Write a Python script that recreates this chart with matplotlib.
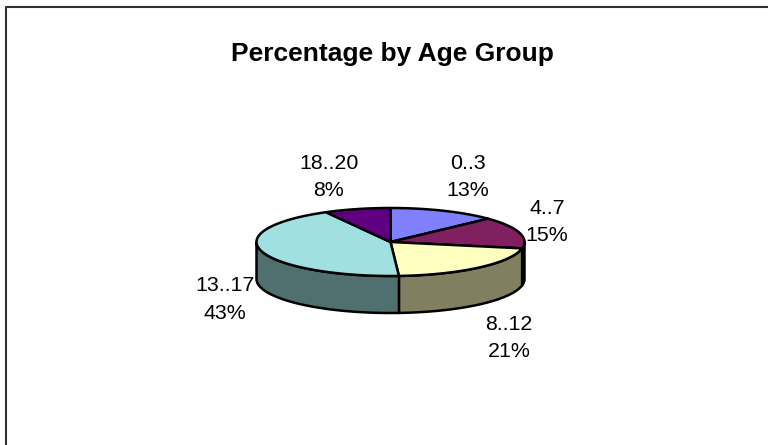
import numpy as np
import matplotlib
matplotlib.use("Agg")
import matplotlib.pyplot as plt
from matplotlib.patches import Polygon

# Percentage by age group, 3d looking pie
groups = ["0..3", "4..7", "8..12", "13..17", "18..20"]
percents = [13, 15, 21, 43, 8]
top_colors = ["#8080FF", "#802060", "#FFFFC0", "#A0E0E0", "#600080"]
side_colors = ["#404080", "#401030", "#808060", "#507070", "#300040"]

# layout, in pixels of the 768x445 picture
cx, cy = 390.5, 242
rx, ry = 134, 34
depth = 37
label_pos = [(468, 177), (547, 222), (509, 338), (225, 299.5), (329, 177)]

plt.rcParams["font.family"] = ["Liberation Sans", "DejaVu Sans"]

fig = plt.figure(figsize=(7.68, 4.45), dpi=100)
ax = fig.add_axes([0, 0, 1, 1])
ax.set_xlim(0, 768)
ax.set_ylim(445, 0)
ax.axis("off")

# chart frame
ax.plot([6, 6, 768], [445, 6.5, 6.5], color="#303030", lw=1.5, solid_capstyle="butt")


def rim(a, b):
    t = np.radians(np.linspace(a, b, 80))
    return cx + rx * np.sin(t), cy - ry * np.cos(t)


edges = np.cumsum([0] + percents) * 3.6

# outer wall, only the front half (90 to 270 deg) can be seen
for i in range(len(groups)):
    a = max(edges[i], 90)
    b = min(edges[i + 1], 270)
    if a >= b:
        continue
    x, y = rim(a, b)
    pts = np.column_stack([np.r_[x, x[::-1]], np.r_[y, y[::-1] + depth]])
    ax.add_patch(Polygon(pts, closed=True, fc=side_colors[i], ec="black", lw=1.8, joinstyle="round"))

# top face
for i in range(len(groups)):
    x, y = rim(edges[i], edges[i + 1])
    pts = np.column_stack([np.r_[cx, x], np.r_[cy, y]])
    ax.add_patch(Polygon(pts, closed=True, fc=top_colors[i], ec="black", lw=1.8, joinstyle="round"))

ax.text(392, 54, "Percentage by Age Group", ha="center", va="center",
        fontsize=19, fontweight="bold", color="black")

for g, p, (lx, ly) in zip(groups, percents, label_pos):
    ax.text(lx, ly, "%s\n%d%%" % (g, p), ha="center", va="center",
            fontsize=15.4, linespacing=1.55, color="black")

fig.savefig("out.png", dpi=100)
